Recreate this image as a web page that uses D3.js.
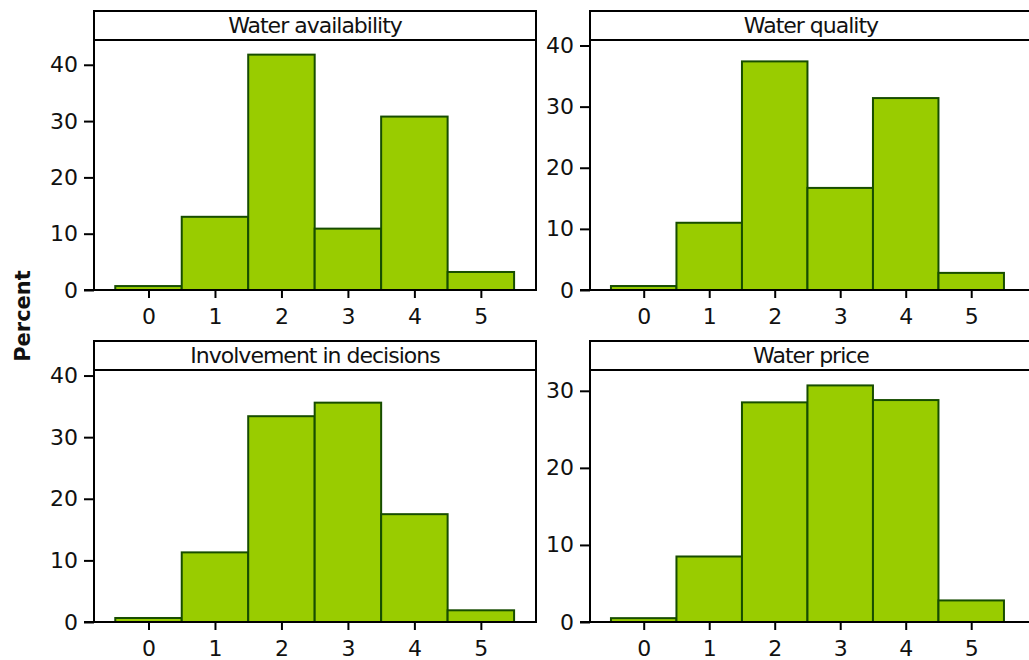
<!DOCTYPE html>
<html>
<head>
<meta charset="utf-8">
<script src="https://cdn.jsdelivr.net/npm/d3@7"></script>
<style>
  body { margin: 0; background: #fff; }
  svg { display: block; font-family: "DejaVu Sans", Verdana, sans-serif; }
</style>
</head>
<body>
<svg id="chart" width="1029" height="660"></svg>
<script>
// scores 0..5, percent of respondents per panel
var categories = [0, 1, 2, 3, 4, 5];
var panelTitles = ["Water availability", "Water quality", "Involvement in decisions", "Water price"];

var availability = [0.7, 13.0, 41.8, 10.9, 30.8, 3.2];
var quality      = [0.65, 11.0, 37.4, 16.7, 31.4, 2.8];
var involvement  = [0.65, 11.3, 33.4, 35.6, 17.5, 1.9];
var price        = [0.5, 8.5, 28.5, 30.7, 28.8, 2.8];

var yTicksA = [0, 10, 20, 30, 40];
var yTicksB = [0, 10, 20, 30];
var xTickLabels = ["0", "1", "2", "3", "4", "5"];

var series = [availability, quality, involvement, price];
var yTickSets = [yTicksA, yTicksA, yTicksA, yTicksB];
var yTops = [44.4, 40.9, 40.9, 32.7];   // axis top of each panel

var svg = d3.select("#chart");

// panel frames: left, top of header, width, bottom of plot
var panels = [
  { x: 94,  top: 11,  w: 442, bottom: 290 },
  { x: 590, top: 11,  w: 441, bottom: 290 },
  { x: 94,  top: 341, w: 442, bottom: 622 },
  { x: 590, top: 341, w: 441, bottom: 622 }
];
var headerH = 29;
var pxPerUnit = [66.47, 65.5, 66.47, 65.5];

panels.forEach(function(p, i) {
  var g = svg.append("g");
  var plotTop = p.top + headerH;

  var x = d3.scaleLinear()
    .domain([-0.82, -0.82 + p.w / pxPerUnit[i]])
    .range([p.x, p.x + p.w]);
  var y = d3.scaleLinear()
    .domain([0, yTops[i]])
    .range([p.bottom, plotTop]);

  // bars
  g.selectAll("rect.bar")
    .data(series[i])
    .enter().append("rect")
    .attr("class", "bar")
    .attr("x", function(d, j) { return x(categories[j] - 0.5); })
    .attr("width", function(d, j) { return x(categories[j] + 0.5) - x(categories[j] - 0.5); })
    .attr("y", function(d) { return y(d); })
    .attr("height", function(d) { return y(0) - y(d); })
    .attr("fill", "#99cc00")
    .attr("stroke", "#174d00")
    .attr("stroke-width", 2);

  // frame
  g.append("rect")
    .attr("x", p.x)
    .attr("y", p.top)
    .attr("width", p.w)
    .attr("height", p.bottom - p.top)
    .attr("fill", "none")
    .attr("stroke", "black")
    .attr("stroke-width", 2);

  // header strip
  g.append("line")
    .attr("x1", p.x).attr("x2", p.x + p.w)
    .attr("y1", plotTop).attr("y2", plotTop)
    .attr("stroke", "black")
    .attr("stroke-width", 2);

  g.append("text")
    .attr("x", p.x + 221)
    .attr("y", p.top + 22)
    .attr("text-anchor", "middle")
    .style("font-size", "22px")
    .style("letter-spacing", "-1px")
    .attr("fill", "#111")
    .text(panelTitles[i]);

  // y axis
  var yAxis = d3.axisLeft(y)
    .tickValues(yTickSets[i])
    .tickFormat(d3.format("d"))
    .tickSize(10)
    .tickPadding(6);
  var ya = g.append("g")
    .attr("transform", "translate(" + p.x + ",0)")
    .call(yAxis);
  ya.select(".domain").remove();
  ya.selectAll("line").attr("stroke", "black").attr("stroke-width", 2);
  ya.selectAll("text")
    .style("font-size", "22px")
    .style("font-family", "DejaVu Sans, Verdana, sans-serif")
    .attr("fill", "#111");

  // x axis
  var xAxis = d3.axisBottom(x)
    .tickValues(categories)
    .tickFormat(function(d, j) { return xTickLabels[j]; })
    .tickSize(8)
    .tickPadding(10);
  var xa = g.append("g")
    .attr("transform", "translate(0," + p.bottom + ")")
    .call(xAxis);
  xa.select(".domain").remove();
  xa.selectAll("line").attr("stroke", "black").attr("stroke-width", 2);
  xa.selectAll("text")
    .style("font-size", "22px")
    .style("font-family", "DejaVu Sans, Verdana, sans-serif")
    .attr("fill", "#111");

  // x axis line runs out past the frame to the left
  g.append("line")
    .attr("x1", p.x - 10).attr("x2", p.x + p.w)
    .attr("y1", p.bottom).attr("y2", p.bottom)
    .attr("stroke", "black")
    .attr("stroke-width", 2);
});

svg.append("text")
  .attr("transform", "translate(30,316) rotate(-90)")
  .attr("text-anchor", "middle")
  .style("font-size", "21px")
  .style("font-weight", "bold")
  .attr("fill", "#111")
  .text("Percent");
</script>
</body>
</html>
